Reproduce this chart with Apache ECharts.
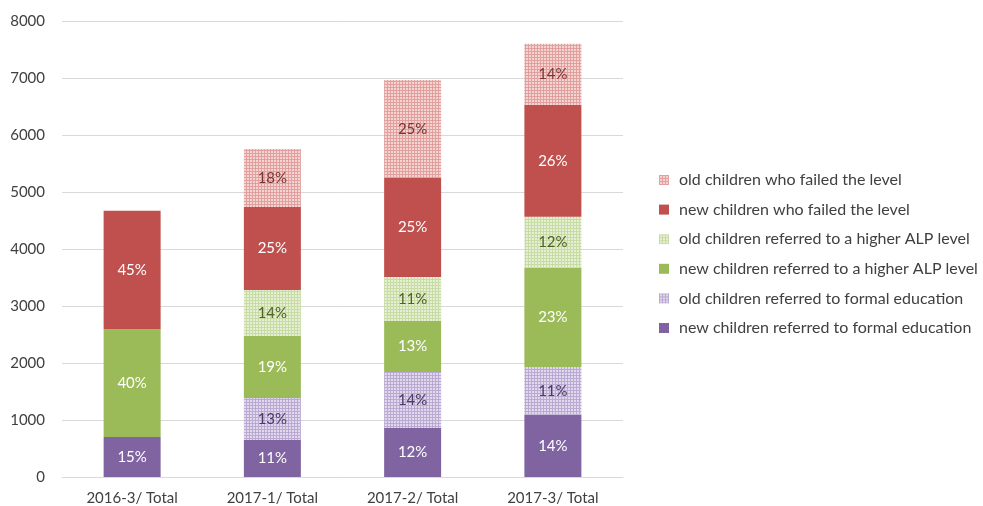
<!DOCTYPE html>
<html>
<head>
<meta charset="utf-8">
<script src="https://cdn.jsdelivr.net/npm/echarts@6/dist/echarts.min.js"></script>
<style>html,body{margin:0;padding:0;background:#fff}#c{width:983px;height:506px}</style>
</head>
<body>
<div id="c"></div>
<script>
const categories = ['2016-3/ Total', '2017-1/ Total', '2017-2/ Total', '2017-3/ Total'];
const newFormal = [700, 650, 860, 1090];
const oldFormal = [0, 737, 982, 842];
const newHigher = [1890, 1087, 895, 1737];
const oldHigher = [0, 807, 772, 895];
const newFailed = [2080, 1456, 1737, 1965];
const oldFailed = [0, 1018, 1719, 1070];
const yTicks = {min: 0, max: 8000, interval: 1000};

const seriesNames = [
  'new children referred to formal education',
  'old children referred to formal education',
  'new children referred to a higher ALP level',
  'old children referred to a higher ALP level',
  'new children who failed the level',
  'old children who failed the level'
];
const seriesData = [newFormal, oldFormal, newHigher, oldHigher, newFailed, oldFailed];
const totals = categories.map((_, i) => seriesData.reduce((s, a) => s + a[i], 0));

function pat(bg, dot) {
  const c = document.createElement('canvas');
  c.width = 3; c.height = 3;
  const g = c.getContext('2d');
  g.fillStyle = bg; g.fillRect(0, 0, 3, 3);
  g.fillStyle = dot; g.fillRect(1, 1, 2, 2);
  return {image: c, repeat: 'repeat'};
}
const colors = [
  '#8064a2',
  pat('#baa9d2', 'rgba(255,255,255,0.55)'),
  '#9bbb59',
  pat('#c7dca3', 'rgba(255,255,255,0.55)'),
  '#c0504d',
  pat('#e29f9d', 'rgba(255,255,255,0.55)')
];
const labelColors = ['#ffffff', '#4b3a63', '#ffffff', '#4f6228', '#ffffff', '#7a3533'];
const FONT = 'Lato';

const chart = echarts.init(document.getElementById('c'), null, {renderer: 'canvas'});
chart.setOption({
  animation: false,
  grid: {left: 62, right: 360, top: 21, bottom: 29},
  legend: {
    orient: 'vertical', left: 654, top: 167, itemGap: 13.6, itemWidth: 10, itemHeight: 10,
    data: seriesNames.slice().reverse(),
    icon: 'rect',
    textStyle: {fontFamily: FONT, fontSize: 16, color: '#404040', padding: [0, 0, 0, 5]}
  },
  xAxis: {
    type: 'category', data: categories,
    axisLine: {lineStyle: {color: '#d9d9d9'}}, axisTick: {show: false},
    axisLabel: {fontFamily: FONT, fontSize: 15, color: '#404040', margin: 14}
  },
  yAxis: {
    type: 'value', min: yTicks.min, max: yTicks.max, interval: yTicks.interval,
    axisLine: {show: false}, axisTick: {show: false},
    splitLine: {lineStyle: {color: '#d9d9d9'}},
    axisLabel: {fontFamily: FONT, fontSize: 15, color: '#404040', margin: 17, formatter: v => String(v)}
  },
  series: seriesData.map((d, k) => ({
    name: seriesNames[k], type: 'bar', stack: 'all', data: d, barWidth: 57,
    itemStyle: {color: colors[k]},
    label: {
      show: true, position: 'inside', fontFamily: FONT, fontSize: 15, color: labelColors[k],
      formatter: p => p.value > 0 ? Math.round(p.value / totals[p.dataIndex] * 100) + '%' : ''
    }
  }))
});
</script>
</body>
</html>
